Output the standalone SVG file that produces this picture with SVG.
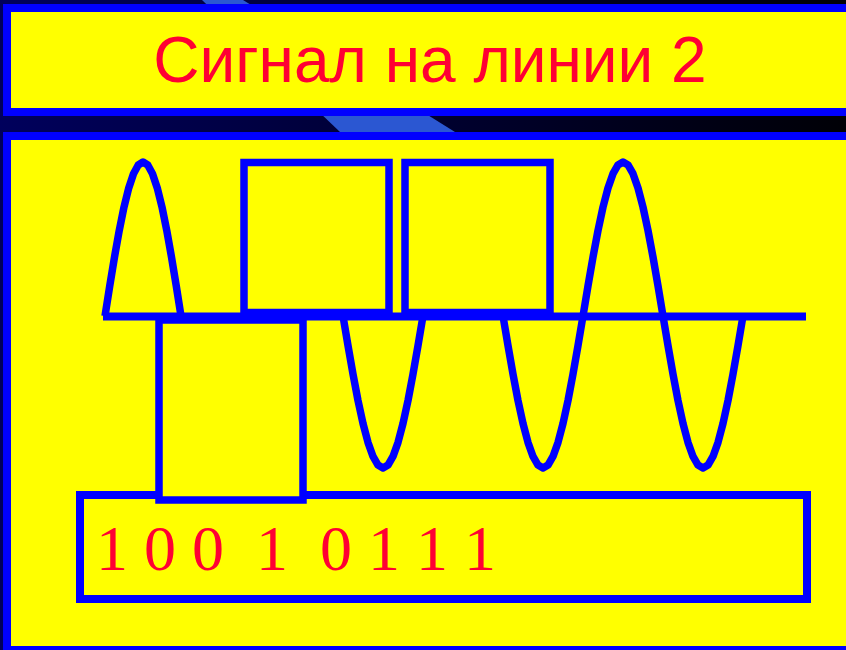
<svg xmlns="http://www.w3.org/2000/svg" width="846" height="650" viewBox="0 0 846 650">
<defs>
<linearGradient id="bg" x1="0" y1="0" x2="1" y2="0">
<stop offset="0" stop-color="#00005c"/>
<stop offset="1" stop-color="#000006"/>
</linearGradient>
</defs>
<style>
.panel{fill:#ffff00;stroke:#0000ff;stroke-width:8}
.wave{fill:none;stroke:#0000ff;stroke-width:7.5;stroke-linejoin:round;stroke-linecap:butt}
.box{fill:none;stroke:#0000ff;stroke-width:7.5}
.filled{fill:#ffff00}
.title{font-family:"Liberation Sans",Arial,sans-serif;font-size:64px;fill:#ff0033}
.bits{font-family:"Liberation Serif","Times New Roman",serif;font-size:64px;fill:#ff0033;white-space:pre}
</style>
<rect x="0" y="0" width="846" height="650" fill="url(#bg)"/>
<polygon points="202,0 243,0 455,132 340,132" fill="#2b57d2"/>
<g id="header">
<rect class="panel" x="7" y="8" width="900" height="104"/>
<text class="title" x="430" y="82" text-anchor="middle">Сигнал на линии 2</text>
</g>
<g id="body">
<rect class="panel" x="7" y="136" width="900" height="514"/>
</g>
<g id="bits-box">
<rect class="panel" x="80" y="495" width="727" height="104"/>
<text class="bits" x="96" y="570">1 0 0  1  0 1 1 1</text>
</g>
<g id="waveform">
<polyline id="hump1" class="wave" points="105,316 109.75,285.95 114.5,257.06 119.25,230.44 124,207.11 128.75,187.95 133.5,173.72 138.25,164.96 143,162 147.75,164.96 152.5,173.72 157.25,187.95 162,207.11 166.75,230.44 171.5,257.06 176.25,285.95 181,316"/>
<rect id="square-high1" class="box" x="244" y="162.5" width="145" height="150"/>
<rect id="square-high2" class="box" x="405" y="162.5" width="145" height="150"/>
<polyline id="trough1" class="wave" points="343,316 348,345.66 353,374.17 358,400.45 363,423.48 368,442.39 373,456.43 378,465.08 383,468 388,465.08 393,456.43 398,442.39 403,423.48 408,400.45 413,374.17 418,345.66 423,316"/>
<polyline id="sine2" class="wave" points="503,316 508,345.66 513,374.17 518,400.45 523,423.48 528,442.39 533,456.43 538,465.08 543,468 548,465.08 553,456.43 558,442.39 563,423.48 568,400.45 573,374.17 578,345.66 583,316 588,285.95 593,257.06 598,230.44 603,207.11 608,187.95 613,173.72 618,164.96 623,162 628,164.96 633,173.72 638,187.95 643,207.11 648,230.44 653,257.06 658,285.95 663,316 668,345.66 673,374.17 678,400.45 683,423.48 688,442.39 693,456.43 698,465.08 703,468 708,465.08 713,456.43 718,442.39 723,423.48 728,400.45 733,374.17 738,345.66 743,316"/>
</g>
<g id="connectors">
<line x1="103" y1="316.5" x2="806" y2="316.5" stroke="#0000ff" stroke-width="8"/>
</g>
<g id="square-low-node">
<rect id="square-low" class="box filled" x="159" y="320" width="144" height="180"/>
</g>
</svg>
